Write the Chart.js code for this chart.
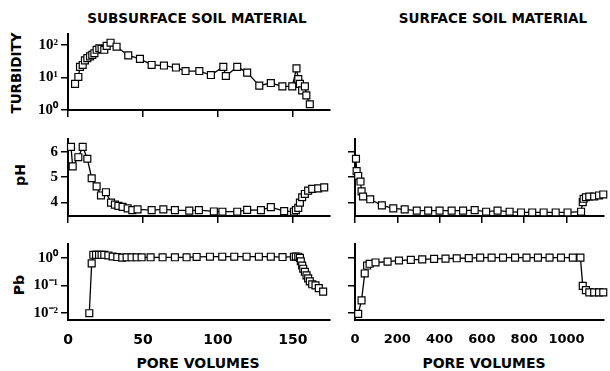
<!DOCTYPE html>
<html><head><meta charset="utf-8">
<script src="https://cdn.jsdelivr.net/npm/chart.js@4.4.0/dist/chart.umd.min.js"></script>
<style>
body{margin:0;background:#fff;width:610px;height:371px;overflow:hidden;position:relative;font-family:"DejaVu Sans",sans-serif;}
canvas{position:absolute;}
.t{position:absolute;white-space:nowrap;font-weight:bold;color:#000;line-height:1;transform:translate(-50%,-50%);}
.r{transform:translate(-50%,-50%) rotate(-90deg);}
</style></head><body>
<div class="t" style="left:197px;top:18.5px;font-size:13.5px">SUBSURFACE SOIL MATERIAL</div>
<div class="t" style="left:493px;top:18.5px;font-size:13.5px">SURFACE SOIL MATERIAL</div>
<div class="t r" style="left:17px;top:73px;font-size:13.5px">TURBIDITY</div>
<div class="t r" style="left:20px;top:175px;font-size:14px">pH</div>
<div class="t r" style="left:19px;top:285px;font-size:14px">Pb</div>
<div class="t" style="left:198px;top:362.5px;font-size:14px">PORE VOLUMES</div>
<div class="t" style="left:484px;top:362.5px;font-size:14px">PORE VOLUMES</div>
<script>
// ---- data ----
const subTurbX = [4.7,6.9,8,9.8,11.3,12.9,14.7,16.2,17.6,19.1,20.9,22.4,24.2,25.8,28.4,32.4,40.2,48,55.8,64,72,78.4,87.6,95.3,103.6,105.3,112.9,119.5,127.6,135.3,143,149.6,152.4,153.6,154.7,156.2,158,159,161.3];
const subTurbY = [6.3,10.3,21,24,33,39,44,49,55,70,78,74,70,92,115,87,47,37,24,23,20,15.6,15.6,11.8,21,11,21,14,5.6,6.7,5.3,5.3,18.8,8.8,6.3,4,5.3,2.8,1.5];

const subPhX = [2,3.1,6.9,9.8,12.9,15.8,19.1,22,25.3,28.7,31.3,33.6,36.4,39.8,42.9,46.4,55.8,63.6,71.3,80.9,87.3,97.3,103,112.9,119.5,128.7,135.3,144.2,150.7,152,153.6,154.7,156.2,158,160.2,162.9,166.9,170.9];
const subPhY = [6.19,5.42,5.78,6.19,5.72,4.95,4.63,4.27,4.4,3.99,3.91,3.86,3.82,3.76,3.69,3.72,3.69,3.72,3.69,3.67,3.69,3.64,3.63,3.63,3.7,3.69,3.81,3.65,3.63,3.69,3.78,3.99,4.2,4.33,4.46,4.53,4.55,4.59];

const subPbX = [14.2,15.8,16.9,18.7,20.7,22.4,24.2,26.9,29.8,32.9,36.2,39.1,42.4,45.8,49.1,55.1,63.1,71.3,79.1,85.8,94.7,102.9,110.9,119.1,127.3,135.3,143.1,150.7,152,153.6,154.7,155.3,156.2,156.9,158,159.1,160.2,161.3,162.9,165.1,167.3,170.2];
const subPbY = [0.01,0.62,1.27,1.27,1.27,1.27,1.27,1.2,1.1,1.05,1.0,1.03,1.03,1.03,1.03,1.03,1.03,1.03,1.03,1.06,1.08,1.08,1.08,1.08,1.08,1.08,1.05,1.08,1.1,1.08,0.98,0.74,0.52,0.40,0.31,0.23,0.18,0.14,0.11,0.10,0.08,0.06];

const surPhX = [4.6,7.7,15,26,31,38,72,127,181,235,292,346,400,457,511,566,620,674,731,785,838,892,949,1005,1069,1077,1081,1092,1108,1131,1154,1174];
const surPhY = [5.72,5.23,5.04,4.82,4.43,4.23,4.12,3.88,3.76,3.72,3.67,3.67,3.67,3.67,3.67,3.69,3.63,3.67,3.63,3.6,3.6,3.6,3.6,3.6,3.63,4.01,4.14,4.2,4.23,4.23,4.27,4.31];

const surPbX = [15,31,46,57,69,97,154,208,264,318,374,428,481,538,592,646,700,757,811,865,920,974,1030,1066,1077,1092,1108,1131,1154,1174];
const surPbY = [0.0095,0.029,0.27,0.52,0.6,0.67,0.72,0.79,0.83,0.87,0.9,0.92,0.95,0.96,1.0,1.0,1.0,1.0,1.0,1.0,1.0,1.0,1.0,1.0,0.096,0.068,0.056,0.056,0.056,0.056];

const subXTicks = [0,50,100,150];
const surXTicks = [0,200,400,600,800,1000];
const turbTicks = [1,10,100];
const phTicks = [4,5,6];
const pbTicks = [0.01,0.1,1];

// ---- drawing ----
const SUP = {'0':'\u2070','1':'\u00B9','2':'\u00B2','-':'\u207B'};
function pow10(v){ const e = Math.round(Math.log10(v)); return '10' + String(e).split('').map(ch=>SUP[ch]).join(''); }

function panel(p){
  const yW = 60, xH = 32, padT = 10, padR = p.padR;
  const c = document.createElement('canvas');
  const left = p.l - yW, top = p.t - padT;
  const w = p.r - left + padR, h = p.b - top + xH;
  c.width = w; c.height = h;
  c.style.left = left + 'px'; c.style.top = top + 'px';
  c.style.width = w + 'px'; c.style.height = h + 'px';
  document.body.appendChild(c);
  new Chart(c, {
    type: 'scatter',
    data: {datasets: [{
      data: p.xs.map((x,i)=>({x:x, y:p.ys[i]})),
      showLine: true, borderColor:'#000', borderWidth:1.3, tension:0,
      pointStyle:'rect', pointRadius:4.9, pointHoverRadius:4.9,
      pointBackgroundColor:'#fff', pointBorderColor:'#000', pointBorderWidth:1.2,
      clip: false
    }]},
    options: {
      responsive:false, animation:false, devicePixelRatio:1,
      layout:{padding:{top:padT, right:padR, left:0, bottom:0}},
      plugins:{legend:{display:false}, tooltip:{enabled:false}},
      scales:{
        x:{
          type:'linear', min:p.xmin, max:p.xmax,
          afterFit: s => { s.height = xH; },
          afterBuildTicks: s => { s.ticks = p.xticks.map(v=>({value:v})); },
          ticks:{ callback: v => p.xlab ? String(v) : '', color:'#000',
                  font:{family:'DejaVu Sans', weight:'bold', size:p.xfs||14},
                  padding: 12, maxRotation:0, autoSkip:false },
          grid:{ drawOnChartArea:false, drawTicks:p.xmarks, tickLength:7, color:'#000', lineWidth:1.5 },
          border:{ display:true, color:'#000', width:2 }
        },
        y:{
          type: p.ylog ? 'logarithmic' : 'linear', min:p.ymin, max:p.ymax,
          afterFit: s => { s.width = yW; },
          afterBuildTicks: s => { s.ticks = p.yticks.map(v=>({value:v})); },
          ticks:{ callback: v => p.ylab ? (p.ylog ? pow10(v) : String(v)) : '', color:'#000',
                  font:{family:'Liberation Serif', weight:'bold', size:15},
                  padding: 3, autoSkip:false },
          grid:{ drawOnChartArea:false, drawTicks:true, tickLength:7, color:'#000', lineWidth:1.5 },
          border:{ display:true, color:'#000', width:2 }
        }
      }
    }
  });
}

const subXmax = 174.7, surXmax = 1177;
panel({l:68,r:330,t:32,b:110,padR:6,xs:subTurbX,ys:subTurbY,xmin:0,xmax:subXmax,xticks:subXTicks,xlab:false,xmarks:true,
       ylog:true,ymin:1,ymax:213,yticks:turbTicks,ylab:true});
panel({l:68,r:330,t:137,b:216,padR:6,xs:subPhX,ys:subPhY,xmin:0,xmax:subXmax,xticks:subXTicks,xlab:false,xmarks:true,
       ylog:false,ymin:3.46,ymax:6.5,yticks:phTicks,ylab:true});
panel({l:68,r:330,t:242,b:320,padR:6,xs:subPbX,ys:subPbY,xmin:0,xmax:subXmax,xticks:subXTicks,xlab:true,xmarks:false,xfs:14,
       ylog:true,ymin:0.00569,ymax:3.1,yticks:pbTicks,ylab:true});
panel({l:355,r:610,t:137,b:216,padR:0,xs:surPhX,ys:surPhY,xmin:0,xmax:surXmax,xticks:surXTicks,xlab:false,xmarks:true,
       ylog:false,ymin:3.46,ymax:6.5,yticks:phTicks,ylab:false});
panel({l:355,r:610,t:242,b:320,padR:0,xs:surPbX,ys:surPbY,xmin:0,xmax:surXmax,xticks:surXTicks,xlab:true,xmarks:false,xfs:13,
       ylog:true,ymin:0.00569,ymax:3.1,yticks:pbTicks,ylab:false});
</script>
</body></html>
